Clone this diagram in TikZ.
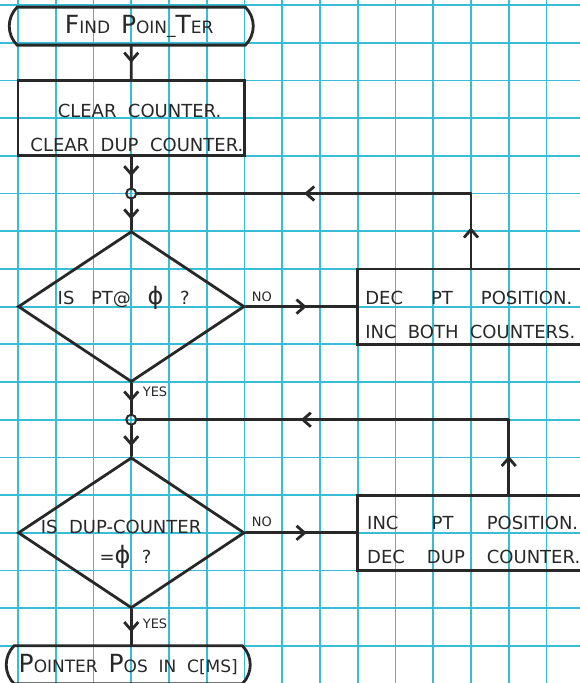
\documentclass[tikz,border=0pt]{standalone}
\usepackage{fontspec}
\newfontfamily\handfont{DejaVu Sans}[WordSpace=2]
\usetikzlibrary{shapes.geometric,shapes.misc,arrows.meta,decorations.markings}
\definecolor{gridcyan}{RGB}{55,190,212}
\definecolor{ink}{RGB}{40,40,40}
\newcommand{\bigch}[1]{{\fontsize{12.5}{14}\selectfont #1}}
\newcommand{\bigphi}{{\fontsize{12}{13}\selectfont ϕ}}
\tikzset{
  gridline/.style={draw=gridcyan, line width=0.9pt},
  inkline/.style={draw=ink, line width=1.4pt, line cap=round},
  hand/.style={font=\handfont\fontsize{9}{11}\selectfont, text=ink, inner sep=0pt},
  spread/.style={hand, text width=#1, align=left},
  flowlabel/.style={font=\handfont\fontsize{6.5}{8}\selectfont, text=ink, inner sep=0pt},
  terminal/.style={inkline, rounded rectangle, rounded rectangle arc length=90,
    minimum width=122pt, minimum height=19pt, inner sep=0pt,
    font=\handfont\fontsize{8.5}{10}\selectfont, text=ink},
  procbox/.style={inkline, rectangle, minimum height=37.7pt, inner sep=0pt},
  decision/.style={inkline, diamond, minimum width=113.25pt, minimum height=75.4pt, inner sep=0pt},
  junction/.style={inkline, circle, line width=1pt, minimum size=5pt, inner sep=0pt},
  flow/.style={inkline, postaction={decorate, decoration={markings,
    mark=at position #1 with {\arrow{Straight Barb[length=4pt,width=7pt]}}}}},
  flow/.default=0.5
}
\begin{document}
\begin{tikzpicture}[x=18.875pt, y=-18.85pt]
  \useasboundingbox (-0.477,-0.133) rectangle (14.887,17.984);
  \clip (-0.477,-0.133) rectangle (14.887,17.984);
  \fill[white] (-0.477,-0.133) rectangle (14.887,17.984);
  % graph paper
  \foreach \i in {0,...,14} \draw[gridline] (\i,-0.133) -- (\i,17.984);
  \foreach \j in {0,...,17} \draw[gridline] (-0.477,\j) -- (14.887,\j);

  % upper part
  \node[terminal] (start) at (3,0.56) {\hspace*{8pt}\bigch{F}IND \bigch{P}OIN\_\bigch{T}ER};
  \node[procbox, minimum width=113.25pt] (clear) at (3,3) {};
  \node[hand] (clear1) at (3.22,2.8) {CLEAR COUNTER.};
  \node[hand] (clear2) at (3.15,3.72) {CLEAR DUP COUNTER.};
  \node[junction] (j1) at (3,5) {};
  \node[decision] (d1) at (3,8) {};
  \node[spread=66pt] (q1) at (2.8,7.77) {IS\hfill PT@\hfill\bigphi\hfill ?};
  \node[procbox, minimum width=122.7pt] (dec) at (12.25,8) {};
  \node[spread=103.5pt, anchor=west] (dec1) at (9.19,7.77) {DEC\hfill PT\hfill POSITION.};
  \node[spread=105pt, anchor=west] (dec2) at (9.19,8.67) {INC\hfill BOTH\hfill COUNTERS.};
  \node[flowlabel] (no1) at (6.46,7.75) {NO};
  \node[flowlabel] (yes1) at (3.63,10.27) {YES};
  \coordinate (ret1) at (12,7);

  % lower part
  \node[junction] (j2) at (3,11) {};
  \node[decision] (d2) at (3,14) {};
  \node[hand] (q2) at (2.73,13.85) {IS DUP-COUNTER};
  \node[hand] (q2b) at (2.85,14.64) {=\bigphi\ ?};
  \node[procbox, minimum width=122.7pt] (inc) at (12.25,14) {};
  \node[spread=105.5pt, anchor=west] (inc1) at (9.24,13.74) {INC\hfill PT\hfill POSITION.};
  \node[spread=106.5pt, anchor=west] (inc2) at (9.24,14.64) {DEC\hfill DUP\hfill COUNTER.};
  \node[flowlabel] (no2) at (6.46,13.72) {NO};
  \node[flowlabel] (yes2) at (3.63,16.4) {YES};
  \coordinate (ret2) at (13,13);
  \node[terminal] (stop) at (2.92,17.5) {\bigch{P}OINTER \bigch{P}OS IN C[MS]};

  % connectors
  \draw[flow=0.5] (start) -- (clear);
  \draw[flow=0.63] (clear) -- (j1);
  \draw[flow=0.66] (j1) -- (d1);
  \draw[flow=0.55] (d1.east) -- (dec.west);
  \draw[flow=0.55] (ret1) -- (ret1 |- j1);
  \draw[flow=0.5] (ret1 |- j1) -- (j1);
  \draw[flow=0.6] (d1) -- (j2);
  \draw[flow=0.68] (j2) -- (d2);
  \draw[flow=0.55] (d2.east) -- (inc.west);
  \draw[flow=0.52] (ret2) -- (ret2 |- j2);
  \draw[flow=0.56] (ret2 |- j2) -- (j2);
  \draw[flow=0.65] (d2.south) -- (d2.south |- stop.north);
\end{tikzpicture}
\end{document}
